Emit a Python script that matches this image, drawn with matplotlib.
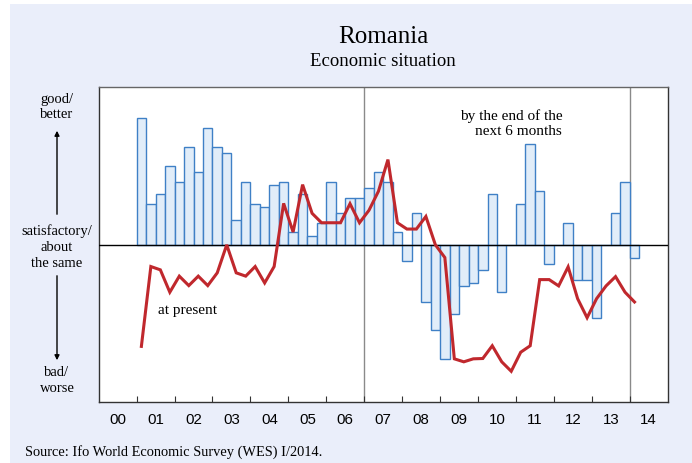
import numpy as np
import matplotlib
matplotlib.use("Agg")
import matplotlib.pyplot as plt
from matplotlib.patches import Rectangle, FancyArrowPatch

# Quarterly survey balances, 2001Q1 .. 2014Q1
quarters = [f"{y}Q{q}" for y in range(2001, 2015) for q in range(1, 5)][:53]

expectations = [
    80.3, 25.9, 32.1, 50.1,
    39.9, 62.2, 46.1, 74.3,
    62.2, 58.2, 15.9, 39.9,
    25.9, 24.0, 38.0, 39.9,
    7.9, 32.1, 5.9, 13.8,
    39.9, 20.0, 29.9, 29.9,
    36.1, 46.1, 39.9, 7.9,
    -10.2, 20.0, -36.3, -54.4,
    -72.4, -44.2, -26.1, -24.2,
    -16.1, 32.1, -30.1, 0.0,
    25.9, 64.1, 34.0, -12.1,
    0.0, 14.0, -22.1, -22.1,
    -46.3, 0.0, 20.0, 39.9,
    -8.1,
]

present = [
    -64.5, -13.8, -15.9, -30.1,
    -19.9, -25.9, -19.9, -25.9,
    -17.8, 0.0, -17.8, -19.9,
    -13.8, -24.2, -13.8, 26.3,
    8.1, 38.2, 20.0, 14.0,
    14.0, 14.0, 26.1, 14.0,
    21.9, 34.0, 54.1, 14.0,
    10.0, 10.0, 18.0, 0.0,
    -8.1, -72.4, -74.3, -72.4,
    -72.2, -64.1, -74.3, -80.3,
    -68.2, -64.1, -22.1, -22.1,
    -26.1, -14.0, -34.2, -46.3,
    -34.2, -26.1, -20.2, -30.1,
    -36.3,
]

year_labels = ["00", "01", "02", "03", "04", "05", "06", "07",
               "08", "09", "10", "11", "12", "13", "14"]

# quarter centres on a continuous year axis
def quarter_pos(label):
    y, q = label.split("Q")
    return int(y) + (int(q) - 1) * 0.25 + 0.125

xq = np.array([quarter_pos(q) for q in quarters])

W, H = 692, 464
fig = plt.figure(figsize=(W / 100, H / 100), dpi=100)
fig.patch.set_facecolor("white")
fig.patches.append(Rectangle((10 / W, 0), 1, 1 - 5 / H, transform=fig.transFigure,
                             facecolor="#eaeefa", edgecolor="none", zorder=-10))

L, R, T, B = 98.7, 667.7, 88.3, 403.3
ax = fig.add_axes([L / W, 1 - B / H, (R - L) / W, (B - T) / H])
ax.set_facecolor("white")

ax.bar(xq, expectations, width=0.25, facecolor="#e1edf9", edgecolor="#3f80c6",
       linewidth=1.0, zorder=2)
ax.plot(xq, present, color="#c0282d", linewidth=2.2, zorder=4, solid_joinstyle="miter")
ax.axhline(0, color="black", linewidth=1.0, zorder=3)
for xv in (2007, 2014):
    ax.axvline(xv, color="#8a8a8a", linewidth=1.0, zorder=1)

ax.set_xlim(2000, 2015)
ax.set_ylim(-100, 100)
ax.set_yticks([])
ax.set_xticks(np.arange(2001, 2015))
ax.set_xticklabels([])
ax.set_xticks(np.arange(2000, 2015) + 0.5, minor=True)
ax.set_xticklabels(year_labels, minor=True)
for lab in ax.get_xticklabels(minor=True):
    lab.set_fontfamily("Liberation Sans")
    lab.set_fontsize(10.8)
ax.tick_params(axis="x", which="major", direction="in", length=4, width=0.8, color="#333333")
ax.tick_params(axis="x", which="minor", length=0, pad=7)
for s in ax.spines.values():
    s.set_color("#333333")
    s.set_linewidth(1.0)
ax.spines["top"].set_color("#666666")

serif = "Liberation Serif"
ax.text(2012.22, 87, "by the end of the\nnext 6 months", ha="right", va="top",
        fontfamily=serif, fontsize=11, linespacing=1.2)
ax.text(2001.56, -41, "at present", ha="left", va="center", fontfamily=serif, fontsize=11)

def fx(px):
    return px / W

def fy(py):
    return 1 - py / H

fig.text(fx(383), fy(37), "Romania", ha="center", va="center", fontfamily=serif, fontsize=18)
fig.text(fx(383), fy(61), "Economic situation", ha="center", va="center",
         fontfamily=serif, fontsize=13.5)
fig.text(fx(57), fy(107), "good/\nbetter", ha="center", va="center", fontfamily=serif,
         fontsize=10.5, linespacing=1.3)
fig.text(fx(57), fy(247), "satisfactory/\nabout\nthe same", ha="center", va="center",
         fontfamily=serif, fontsize=10.5, linespacing=1.3)
fig.text(fx(57), fy(381), "bad/\nworse", ha="center", va="center", fontfamily=serif,
         fontsize=10.5, linespacing=1.3)
for y0, y1 in ((218, 129), (274, 364)):
    fig.patches.append(FancyArrowPatch((fx(57), fy(y0)), (fx(57), fy(y1)),
                                       transform=fig.transFigure, arrowstyle="-|>",
                                       mutation_scale=7, color="black", linewidth=1.0))
fig.text(fx(25), fy(452), "Source: Ifo World Economic Survey (WES) I/2014.", ha="left",
         va="center", fontfamily=serif, fontsize=10.4)

fig.savefig("out.png", dpi=100)
